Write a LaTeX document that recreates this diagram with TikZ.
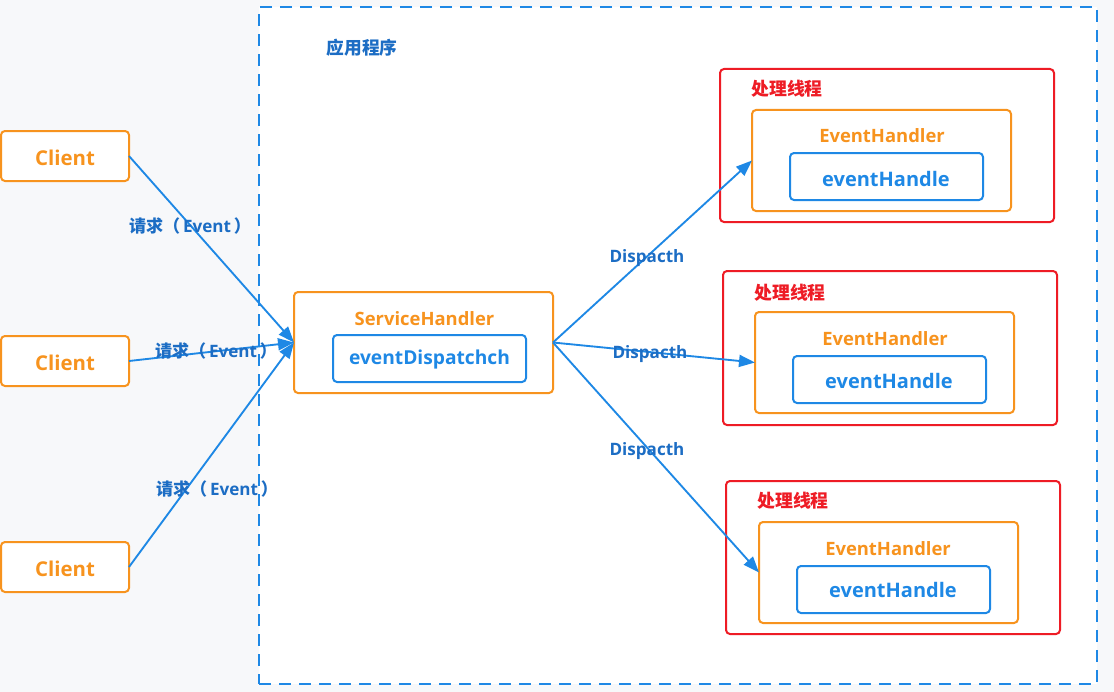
\documentclass[tikz,border=0pt]{standalone}
\usepackage{fontspec}
\setmainfont{Open Sans}
\newfontfamily\cjk{Noto Sans CJK SC}
\usetikzlibrary{arrows.meta,fit}
\definecolor{bgc}{HTML}{F7F8FA}
\definecolor{cblue}{HTML}{1E88E5}
\definecolor{dblue}{HTML}{1C6DC4}
\definecolor{corange}{HTML}{F7931E}
\definecolor{cred}{HTML}{EE1C25}
\begin{document}
\begin{tikzpicture}[x=0.75pt,y=-0.75pt,
  obox/.style={draw=corange, line width=1.5pt, rounded corners=3pt, inner sep=0pt, outer sep=0pt, fill=white},
  bbox/.style={draw=cblue, line width=1.5pt, rounded corners=3pt, inner sep=0pt, outer sep=0pt, fill=white},
  rbox/.style={draw=cred, line width=1.5pt, rounded corners=3pt, inner sep=0pt, outer sep=0pt, fill=white},
  otext/.style={text=corange, font=\bfseries\fontsize{13.8}{16}\selectfont},
  clienttext/.style={text=corange, font=\bfseries\fontsize{15.3}{18}\selectfont},
  btext/.style={text=cblue, font=\bfseries\fontsize{15}{18}\selectfont},
  rtext/.style={text=cred, font=\cjk\bfseries\fontsize{13.4}{16}\selectfont},
  lbl/.style={text=dblue, font=\bfseries\fontsize{12.8}{15}\selectfont, inner sep=0pt},
  conn/.style={draw=cblue, line width=1.4pt, -{Triangle[length=12pt,width=9pt]}}
]
\fill[bgc] (0,0) rectangle (1114,692);
\useasboundingbox (0,0) rectangle (1114,692);
\node[fit={(259,7)(1097,684)}, inner sep=0pt, draw=cblue, fill=white, line width=1.5pt, dash pattern=on 9pt off 6pt] (app) {};
\node[text=dblue, font=\cjk\bfseries\fontsize{13.3}{16}\selectfont] (apptitle) at (362,48) {应用程序};

% clients
\node[obox, fit={(1,131)(129,181)}] (c1) {};
\node[clienttext] (c1t) at (65,157.5) {Client};
\node[obox, fit={(1,336)(129,386)}] (c2) {};
\node[clienttext] (c2t) at (65,362.5) {Client};
\node[obox, fit={(1,542)(129,592)}] (c3) {};
\node[clienttext] (c3t) at (65,568.5) {Client};

% service handler
\node[obox, fit={(294,292)(553,393)}] (sh) {};
\node[otext] (sht) at (424.5,318.5) {ServiceHandler};
\node[bbox, fit={(333,335)(526,382)}] (ed) {};
\node[btext, font=\bfseries\fontsize{14.4}{18}\selectfont] (edt) at (429.5,360) {eventDispatchch};

% threads
\node[rbox, fit={(720,69)(1054,222)}] (t1) {};
\node[rtext] (t1t) at (787,89) {处理线程};
\node[obox, fit={(752,110)(1011,211)}] (eh1) {};
\node[otext] (eh1t) at (882,135.5) {EventHandler};
\node[bbox, fit={(790,153)(983,200)}] (h1) {};
\node[btext] (h1t) at (886,179) {eventHandle};

\node[rbox, fit={(723,271)(1057,425)}] (t2) {};
\node[rtext] (t2t) at (790,293) {处理线程};
\node[obox, fit={(755,312)(1014,413)}] (eh2) {};
\node[otext] (eh2t) at (885,338.5) {EventHandler};
\node[bbox, fit={(793,356)(986,403)}] (h2) {};
\node[btext] (h2t) at (889,381) {eventHandle};

\node[rbox, fit={(726,481)(1060,634)}] (t3) {};
\node[rtext] (t3t) at (793,501) {处理线程};
\node[obox, fit={(759,522)(1018,623)}] (eh3) {};
\node[otext] (eh3t) at (888,548.5) {EventHandler};
\node[bbox, fit={(797,566)(990,613)}] (h3) {};
\node[btext] (h3t) at (893,590) {eventHandle};

% connectors
\draw[conn] (c1.east) -- (sh.west);
\draw[conn] (c2.east) -- (sh.west);
\draw[conn] (c3.east) -- (sh.west);
\draw[conn] (sh.east) -- (eh1.west);
\draw[conn] (sh.east) -- (eh2.west);
\draw[conn] (sh.east) -- (eh3.west);

% labels
\node[lbl] (l1) at (190,226) {{\cjk 请求（}\,Event\,{\cjk ）}};
\node[lbl] (l2) at (216,351) {{\cjk 请求（}\,Event\,{\cjk ）}};
\node[lbl] (l3) at (217,489) {{\cjk 请求（}\,Event\,{\cjk ）}};
\node[lbl] (d1) at (647,258) {Dispacth};
\node[lbl] (d2) at (650,354) {Dispacth};
\node[lbl] (d3) at (647,451) {Dispacth};
\end{tikzpicture}
\end{document}
